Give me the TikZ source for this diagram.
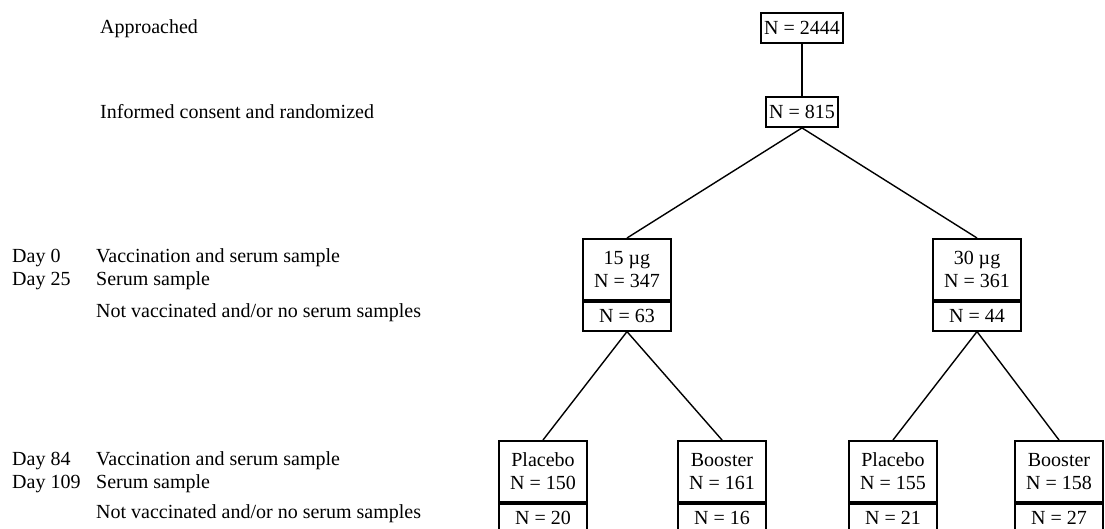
\documentclass[tikz,border=0pt]{standalone}
\usepackage{fontspec}
\setmainfont{Liberation Serif}
\usetikzlibrary{positioning}

\begin{document}
\begin{tikzpicture}[
    x=1pt, y=-1pt,
    node distance=0pt,
    every node/.style={font=\fontsize{20}{23}\selectfont},
    rowtext/.style={anchor=west, inner sep=0pt},
    topbox/.style={draw, line width=1.8pt, inner sep=3pt, minimum height=30pt},
    upbox/.style={draw, line width=1.8pt, minimum width=88pt, minimum height=61pt, align=center, anchor=north},
    lowbox/.style={draw, line width=1.8pt, minimum width=88pt, minimum height=29pt},
    link/.style={line width=1.4pt},
]
    \useasboundingbox (0,0) rectangle (1105,529);

    % Stage labels
    \node [rowtext] (t_app) at (100,29) {Approached};
    \node [rowtext] (t_rand) at (100,112) {Informed consent and randomized};

    \node [rowtext] (t_d0) at (12,258) {Day 0};
    \node [rowtext] (t_d0v) at (96,258) {Vaccination and serum sample};
    \node [rowtext] (t_d25) at (12,281) {Day 25};
    \node [rowtext] (t_d25s) at (96,281) {Serum sample};
    \node [rowtext] (t_miss1) at (96,313) {Not vaccinated and/or no serum samples};

    \node [rowtext] (t_d84) at (12,461) {Day 84};
    \node [rowtext] (t_d84v) at (96,461) {Vaccination and serum sample};
    \node [rowtext] (t_d109) at (12,484) {Day 109};
    \node [rowtext] (t_d109s) at (96,484) {Serum sample};
    \node [rowtext] (t_miss2) at (96,514) {Not vaccinated and/or no serum samples};

    % Top boxes
    \node [topbox] (app) at (802,28) {N = 2444};
    \node [topbox] (rand) at (802,112) {N = 815};

    % Dose groups
    \node [upbox] (d15) at (627,238) {15 µg\\N = 347};
    \node [lowbox, below=of d15] (d15_out) {N = 63};
    \node [upbox] (d30) at (977,238) {30 µg\\N = 361};
    \node [lowbox, below=of d30] (d30_out) {N = 44};

    % Day 84 groups
    \node [upbox] (p15) at (543,440) {Placebo\\N = 150};
    \node [lowbox, below=of p15] (p15_out) {N = 20};
    \node [upbox] (b15) at (722,440) {Booster\\N = 161};
    \node [lowbox, below=of b15] (b15_out) {N = 16};
    \node [upbox] (p30) at (893,440) {Placebo\\N = 155};
    \node [lowbox, below=of p30] (p30_out) {N = 21};
    \node [upbox] (b30) at (1059,440) {Booster\\N = 158};
    \node [lowbox, below=of b30] (b30_out) {N = 27};

    % Lines
    \draw [link] (app) -- (rand);
    \draw [link] (rand.south) -- (d15.north);
    \draw [link] (rand.south) -- (d30.north);
    \draw [link] (d15_out.south) -- (p15.north);
    \draw [link] (d15_out.south) -- (b15.north);
    \draw [link] (d30_out.south) -- (p30.north);
    \draw [link] (d30_out.south) -- (b30.north);

\end{tikzpicture}
\end{document}
